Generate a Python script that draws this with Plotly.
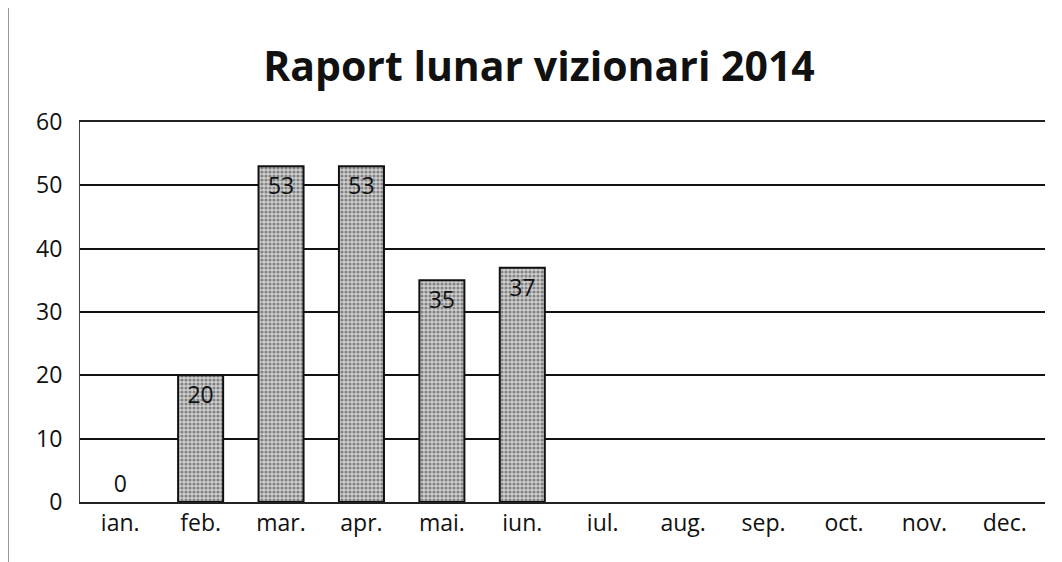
import plotly.graph_objects as go

months = ["ian.", "feb.", "mar.", "apr.", "mai.", "iun.", "iul.", "aug.", "sep.", "oct.", "nov.", "dec."]
values = [0, 20, 53, 53, 35, 37, None, None, None, None, None, None]
labels = ["0", "20", "53", "53", "35", "37", "", "", "", "", "", ""]
y_ticks = [0, 10, 20, 30, 40, 50, 60]

positions = ["outside" if v == 0 else "inside" for v in values]
line_widths = [0 if v == 0 else 2 for v in values]

fig = go.Figure(go.Bar(
    x=months, y=values, text=labels, textposition=positions,
    insidetextanchor="end", textangle=0,
    textfont=dict(family="Open Sans", size=23, color="#111"),
    outsidetextfont=dict(family="Open Sans", size=23, color="#111"),
    cliponaxis=False,
    marker=dict(color="#c0c0c0", line=dict(color="#111", width=line_widths),
                pattern=dict(shape=".", size=4, solidity=0.5, fgcolor="#333", bgcolor="#d0d0d0")),
))

fig.update_layout(
    width=1062, height=562,
    margin=dict(l=72, r=25, t=114, b=68),
    paper_bgcolor="white", plot_bgcolor="white",
    bargap=0.44,
    showlegend=False,
    title=dict(text="<b>Raport lunar vizionari 2014</b>", x=0.5, xanchor="center",
               y=0.895, yanchor="middle",
               font=dict(family="Open Sans", size=41, color="#111")),
    font=dict(family="Open Sans", size=23, color="#111"),
    xaxis=dict(showgrid=False, showline=True, linecolor="#222", linewidth=1.5, mirror=True,
               ticks="", tickfont=dict(size=23)),
    yaxis=dict(range=[0, 60], tickvals=y_ticks, showgrid=True, gridcolor="#111", gridwidth=1.5,
               showline=True, linecolor="#444", linewidth=1, zeroline=False, ticks="",
               tickfont=dict(size=23), ticklabelstandoff=12),
    shapes=[dict(type="line", xref="paper", yref="paper", x0=-72/965, x1=-72/965, y0=-0.2, y1=1.3,
                 line=dict(color="#333", width=1))],
)

fig.write_html("out.html")
